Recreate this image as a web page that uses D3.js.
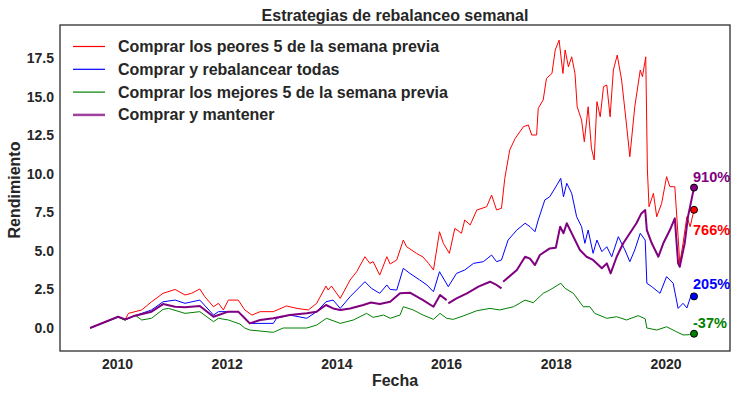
<!DOCTYPE html>
<meta charset="utf-8">
<style>
body { margin: 0; background: #fff; }
svg { font-family: "Liberation Sans", Arial, sans-serif; font-weight: bold; }
.axis text { fill: #262626; font-size: 14px; }
.axis path, .axis line { display: none; }
.lbl { fill: #262626; font-size: 16px; }
</style>
<svg></svg>
<script src="https://d3js.org/d3.v7.min.js"></script>
<script>

var width = 738, height = 395;
var margin = {top: 25, right: 8, bottom: 44, left: 60};

// decimal year, value (null = gap)
var peores = [
  [2009.51,0],[2010.02,0.73],[2010.15,0.56],[2010.21,0.95],[2010.45,1.17],[2010.63,1.7],
  [2010.84,2.25],[2011.06,2.5],[2011.24,2.14],[2011.36,2.25],[2011.51,2.53],[2011.60,2.03],
  [2011.76,1.38],[2011.85,1.6],[2011.94,1.17],[2012.03,1.81],[2012.21,1.81],[2012.33,1.17],
  [2012.46,0.84],[2012.61,1.06],[2012.85,1.06],[2013.09,1.43],[2013.28,1.27],[2013.49,1.17],
  [2013.64,1.6],[2013.81,2.72],[2013.85,2.46],[2013.91,2.72],[2014.07,1.92],[2014.25,3.11],
  [2014.37,3.65],[2014.52,4.62],[2014.61,4.19],[2014.67,4.3],[2014.79,3.43],[2014.92,4.62],
  [2014.98,4.15],[2015.10,4.41],[2015.22,5.7],[2015.28,5.27],[2015.46,4.84],[2015.58,4.6],
  [2015.68,4.19],[2015.77,3.76],[2015.88,6.24],[2015.95,5.49],[2016.06,4.84],[2016.16,6.46],
  [2016.28,6.14],[2016.34,7.0],[2016.44,6.68],[2016.56,7.65],[2016.74,7.86],[2016.83,8.62],
  [2016.92,7.65],[2017.01,7.76],[2017.07,9.7],[2017.16,11.54],[2017.26,12.29],[2017.41,13.05],
  [2017.50,13.16],[2017.56,12.51],[2017.65,12.51],[2017.68,14.24],[2017.77,14.78],[2017.83,16.18],
  [2017.93,16.5],[2017.99,18.02],[2018.06,18.66],[2018.13,16.5],[2018.17,18.02],[2018.23,16.93],
  [2018.29,17.58],[2018.35,16.5],[2018.39,14.34],[2018.47,13.48],[2018.52,12.07],[2018.59,14.34],
  [2018.65,11.65],[2018.70,10.89],[2018.75,14.67],[2018.81,13.69],[2018.87,15.64],[2018.93,15.75],
  [2018.99,13.69],[2019.05,16.72],[2019.12,17.69],[2019.20,16.07],[2019.28,13.48],[2019.35,11.1],
  [2019.44,14.34],[2019.54,16.72],[2019.58,16.29],[2019.64,17.58],[2019.67,10.24],[2019.70,7.86],
  [2019.78,8.73],[2019.84,7.21],[2019.93,8.08],[2020.02,9.81],[2020.08,9.16],[2020.17,9.16],
  [2020.23,5.92],[2020.26,4.19],[2020.32,5.49],[2020.39,7.21],[2020.45,6.57],[2020.52,7.66]
];

var todas = [
  [2009.51,0],[2010.02,0.73],[2010.15,0.52],[2010.33,0.8],[2010.63,1.17],[2010.84,1.7],
  [2011.06,1.81],[2011.24,1.6],[2011.51,1.81],[2011.76,0.84],[2011.85,1.06],[2012.03,1.06],
  [2012.21,1.06],[2012.24,0.95],[2012.33,0.63],[2012.42,0.3],[2012.85,0.3],[2012.91,0.63],
  [2013.15,0.84],[2013.46,0.63],[2013.64,1.06],[2013.81,1.7],[2013.94,1.81],[2014.07,1.27],
  [2014.25,2.03],[2014.52,3.0],[2014.64,2.57],[2014.79,2.25],[2014.92,2.79],[2014.98,2.5],
  [2015.10,2.46],[2015.22,3.87],[2015.34,3.54],[2015.52,3.11],[2015.65,2.79],[2015.77,2.35],
  [2015.88,3.65],[2016.04,2.68],[2016.19,3.54],[2016.34,3.76],[2016.50,4.19],[2016.68,4.3],
  [2016.83,4.73],[2016.92,4.3],[2017.01,4.41],[2017.13,5.7],[2017.29,6.35],[2017.44,6.79],
  [2017.53,6.57],[2017.62,6.24],[2017.68,7.0],[2017.80,8.3],[2017.89,8.51],[2018.02,9.27],
  [2018.09,9.7],[2018.14,8.51],[2018.20,9.38],[2018.29,8.73],[2018.38,7.21],[2018.47,6.57],
  [2018.53,5.49],[2018.59,6.35],[2018.68,4.84],[2018.75,5.7],[2018.84,4.95],[2018.93,5.27],
  [2019.02,4.62],[2019.14,5.92],[2019.26,5.06],[2019.35,4.3],[2019.44,5.06],[2019.54,6.14],
  [2019.63,5.7],[2019.66,2.9],[2019.75,2.68],[2019.90,2.25],[2020.02,3.33],[2020.14,2.9],
  [2020.23,1.27],[2020.32,1.6],[2020.39,1.3],[2020.48,2.25],[2020.52,2.05]
];

var mejores = [
  [2009.51,0],[2010.02,0.7],[2010.15,0.5],[2010.21,0.63],[2010.33,0.84],[2010.45,0.52],
  [2010.63,0.63],[2010.84,1.21],[2010.94,1.27],[2011.24,0.95],[2011.51,1.06],[2011.76,0.41],
  [2011.85,0.63],[2012.03,0.52],[2012.24,0.26],[2012.33,0.0],[2012.42,-0.13],[2012.85,-0.28],
  [2013.03,0],[2013.46,0],[2013.64,0.19],[2013.82,0.63],[2014.07,0.3],[2014.31,0.52],
  [2014.55,0.95],[2014.67,0.69],[2014.86,0.84],[2014.98,0.63],[2015.16,0.84],[2015.22,1.38],
  [2015.40,1.17],[2015.58,0.84],[2015.77,0.56],[2015.89,0.95],[2016.01,0.63],[2016.13,0.56],
  [2016.31,0.78],[2016.56,1.12],[2016.80,1.27],[2016.98,1.17],[2017.23,1.38],[2017.44,1.81],
  [2017.59,1.64],[2017.77,2.25],[2017.89,2.46],[2018.09,2.9],[2018.17,2.57],[2018.32,2.25],
  [2018.50,1.38],[2018.62,1.38],[2018.71,0.95],[2018.93,0.63],[2019.11,0.73],[2019.29,0.52],
  [2019.50,0.8],[2019.63,0.6],[2019.66,0],[2019.84,-0.13],[2020.02,0.08],[2020.20,-0.24],
  [2020.32,-0.45],[2020.44,-0.43],[2020.52,-0.37]
];

var mantener = [
  [2009.51,0],[2010.02,0.73],[2010.15,0.56],[2010.33,0.8],[2010.63,1.06],[2010.84,1.55],
  [2011.06,1.38],[2011.24,1.35],[2011.51,1.43],[2011.76,0.73],[2012.03,1.06],[2012.21,1.06],
  [2012.33,0.63],[2012.42,0.3],[2012.61,0.52],[2012.85,0.63],[2013.15,0.84],[2013.46,0.95],
  [2013.64,1.06],[2013.81,1.49],[2013.94,1.27],[2014.07,1.17],[2014.25,1.27],[2014.49,1.49],
  [2014.63,1.65],[2014.79,1.55],[2014.98,1.7],[2015.16,2.25],[2015.34,2.29],[2015.58,1.81],
  [2015.77,1.38],[2015.89,2.14],[2016.01,1.81],[2016.025,null],[2016.04,1.6],[2016.19,1.92],
  [2016.38,2.25],[2016.59,2.68],[2016.80,3.0],[2016.92,2.79],[2017.01,2.57],[2017.025,null],
  [2017.04,3.0],[2017.29,3.76],[2017.44,4.62],[2017.53,4.5],[2017.62,4.08],[2017.71,4.73],
  [2017.89,5.16],[2018.00,5.2],[2018.08,6.57],[2018.14,6.14],[2018.20,6.79],[2018.32,5.92],
  [2018.44,5.06],[2018.56,4.62],[2018.68,4.41],[2018.84,3.87],[2018.93,4.19],[2019.00,3.54],
  [2019.11,4.62],[2019.23,5.49],[2019.35,6.14],[2019.47,6.79],[2019.56,7.43],[2019.63,7.65],
  [2019.66,6.35],[2019.75,5.49],[2019.87,4.62],[2019.96,5.49],[2020.08,6.35],[2020.17,7.11],
  [2020.23,4.19],[2020.26,3.97],[2020.35,5.49],[2020.41,7.21],[2020.52,9.1]
];

var names = [
  "Comprar los peores 5 de la semana previa",
  "Comprar y rebalancear todas",
  "Comprar los mejores 5 de la semana previa",
  "Comprar y mantener"
];
var colors = ["#ff0000", "#0000ff", "#008000", "#800080"];
var yTicks = [0, 2.5, 5, 7.5, 10, 12.5, 15, 17.5];
var xTicks = [2010, 2012, 2014, 2016, 2018, 2020];

var series = [peores, todas, mejores, mantener].map(function(d, i) {
  return {name: names[i], color: colors[i], values: d};
});

var svg = d3.select("svg")
    .attr("width", width)
    .attr("height", height);

var x = d3.scaleLinear()
    .domain([2008.961, 2021.176])
    .range([margin.left, width - margin.right]);

var y = d3.scaleLinear()
    .domain([-1.49, 19.64])
    .range([height - margin.bottom, margin.top]);

svg.append("g")
    .attr("class", "axis")
    .attr("transform", "translate(0," + (height - margin.bottom) + ")")
    .call(d3.axisBottom(x).tickValues(xTicks).tickFormat(d3.format("d")).tickSize(0).tickPadding(5))
  .selectAll("text")
    .attr("dy", "0.9em");

svg.append("g")
    .attr("class", "axis")
    .attr("transform", "translate(" + margin.left + ",0)")
    .call(d3.axisLeft(y).tickValues(yTicks).tickFormat(d3.format(".1f")).tickSize(0).tickPadding(6));

var line = d3.line()
    .defined(function(d) { return d[1] != null; })
    .x(function(d) { return x(d[0]); })
    .y(function(d) { return y(d[1]); });

svg.append("g").selectAll("path")
    .data(series)
  .enter().append("path")
    .attr("fill", "none")
    .attr("stroke", function(d) { return d.color; })
    .attr("stroke-width", function(d, i) { return i == 3 ? 2 : 1; })
    .attr("stroke-linejoin", "round")
    .attr("d", function(d) { return line(d.values); });

// end markers and percentage labels
var labelShift = [25, -7, -6, -6];

var ends = svg.append("g").selectAll("g")
    .data(series)
  .enter().append("g");

ends.append("circle")
    .attr("cx", function(d) { return x(d.values[d.values.length - 1][0]); })
    .attr("cy", function(d) { return y(d.values[d.values.length - 1][1]); })
    .attr("r", 3.5)
    .attr("fill", function(d) { return d.color; })
    .attr("stroke", "#000")
    .attr("stroke-width", 1);

ends.append("text")
    .attr("x", function(d) { return x(d.values[d.values.length - 1][0]) - 1; })
    .attr("y", function(d, i) { return y(d.values[d.values.length - 1][1]) + labelShift[i]; })
    .attr("fill", function(d) { return d.color; })
    .style("font-size", "14.5px")
    .text(function(d) { return Math.round(d.values[d.values.length - 1][1] * 100) + "%"; });

// frame
svg.append("rect")
    .attr("x", margin.left)
    .attr("y", margin.top)
    .attr("width", width - margin.left - margin.right)
    .attr("height", height - margin.top - margin.bottom)
    .attr("fill", "none")
    .attr("stroke", "#262626")
    .attr("stroke-width", 1.25);

// legend
var legend = svg.append("g").selectAll("g")
    .data(series)
  .enter().append("g")
    .attr("transform", function(d, i) { return "translate(73," + (46.5 + i * 22.8) + ")"; });

legend.append("line")
    .attr("x2", 32)
    .attr("stroke", function(d, i) { return i == 3 ? "#a040a0" : d.color; })
    .attr("stroke-width", function(d, i) { return i == 3 ? 2.5 : 1.2; });

legend.append("text")
    .attr("class", "lbl")
    .attr("x", 45)
    .attr("y", 5.5)
    .text(function(d) { return d.name; });

svg.append("text")
    .attr("class", "lbl")
    .attr("x", (margin.left + width - margin.right) / 2)
    .attr("y", 20.5)
    .attr("text-anchor", "middle")
    .text("Estrategias de rebalanceo semanal");

svg.append("text")
    .attr("class", "lbl")
    .attr("x", (margin.left + width - margin.right) / 2)
    .attr("y", 386)
    .attr("text-anchor", "middle")
    .text("Fecha");

svg.append("text")
    .attr("class", "lbl")
    .attr("transform", "translate(20," + ((margin.top + height - margin.bottom) / 2 + 2) + ") rotate(-90)")
    .attr("text-anchor", "middle")
    .text("Rendimiento");

</script>
